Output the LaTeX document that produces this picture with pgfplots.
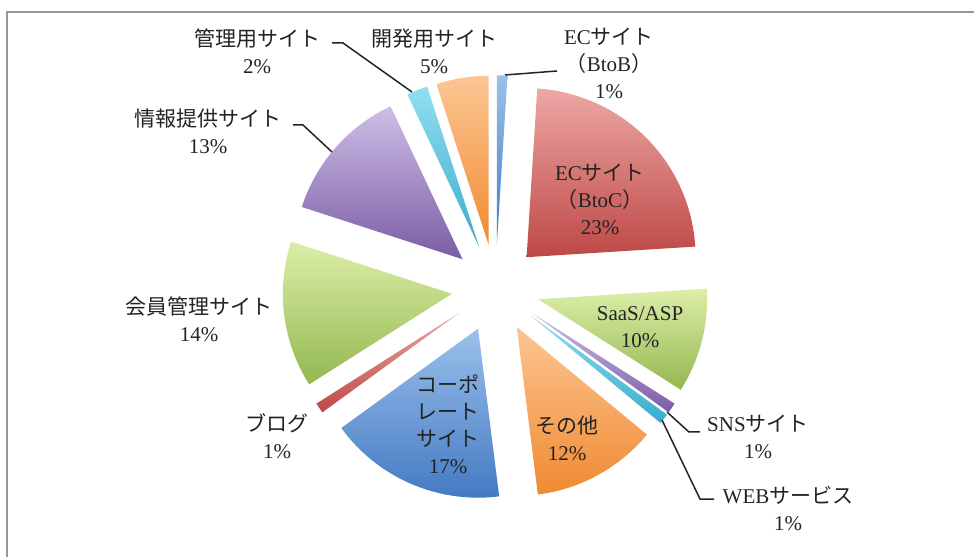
\documentclass[border=0pt]{standalone}
\usepackage{pgfplots}
\usepackage{pgfplotstable}
\pgfplotsset{compat=1.18}
\usepackage{fontspec}
\setmainfont{Liberation Serif}
\newfontfamily\cjk{Noto Sans CJK JP}

\definecolor{blueL}{RGB}{155,192,235}
\definecolor{blueD}{RGB}{68,122,195}
\definecolor{redL}{RGB}{236,168,165}
\definecolor{redD}{RGB}{190,72,70}
\definecolor{greenL}{RGB}{220,238,168}
\definecolor{greenD}{RGB}{148,184,80}
\definecolor{purpleL}{RGB}{206,190,230}
\definecolor{purpleD}{RGB}{122,92,165}
\definecolor{aquaL}{RGB}{145,222,240}
\definecolor{aquaD}{RGB}{58,172,205}
\definecolor{orangeL}{RGB}{252,198,148}
\definecolor{orangeD}{RGB}{240,138,48}
\definecolor{txt}{RGB}{35,35,35}
\definecolor{framecol}{RGB}{150,150,150}

\tikzset{lbl/.style={align=center, font=\fontsize{21}{27}\selectfont, text=txt, inner sep=0pt}}

% share (%), clockwise from 12 o'clock
\pgfplotstableread{
name value fam
BtoB 1 blue
BtoC 23 red
SaaS 10 green
SNS 1 purple
WEB 1 aqua
Other 12 orange
Corporate 17 blue
Blog 1 red
Member 14 green
Info 13 purple
Admin 2 aqua
Dev 5 orange
}\piedata

\def\pcx{495.5}\def\pcy{268.7}\def\prad{169}\def\pexp{44}
\gdef\pcum{0}

\begin{document}
\begin{tikzpicture}
\begin{axis}[name=ax, hide axis, scale only axis, width=974pt, height=557pt,
  xmin=0, xmax=974, ymin=0, ymax=557, clip=false]
\draw[framecol, line width=1.5pt] (axis cs:7,0) -- (axis cs:7,545) -- (axis cs:974,545);
\pgfplotsinvokeforeach{0,...,11}{
  \pgfplotstablegetelem{#1}{value}\of\piedata \let\wV\pgfplotsretval
  \pgfplotstablegetelem{#1}{fam}\of\piedata \let\wF\pgfplotsretval
  \pgfmathsetmacro\wA{90-3.6*\pcum}
  \pgfmathsetmacro\wB{90-3.6*(\pcum+\wV)}
  \pgfmathsetmacro\wM{(\wA+\wB)/2}
  \pgfmathsetmacro\wX{\pcx+\pexp*cos(\wM)}
  \pgfmathsetmacro\wY{\pcy+\pexp*sin(\wM)}
  \pgfmathsetmacro\wN{\pcum+\wV}
  \global\let\pcum\wN
  \edef\wDo{\noexpand\addplot[draw=none, top color=\wF L, bottom color=\wF D,
     domain=\wB:\wA, samples=60] ({\wX+\prad*cos(x)},{\wY+\prad*sin(x)}) -- (axis cs:\wX,\wY) -- cycle;}
  \wDo
}
% leader lines
\addplot[txt, line width=1.5pt, no markers] coordinates {(332,514) (343,514) (412,465)};
\addplot[txt, line width=1.5pt, no markers] coordinates {(293,432) (303,432) (332,405)};
\addplot[txt, line width=1.5pt, no markers] coordinates {(505,482) (557,486)};
\addplot[txt, line width=1.5pt, no markers] coordinates {(667,145) (689,125) (700,125)};
\addplot[txt, line width=1.5pt, no markers] coordinates {(662,137) (700,58) (714,58)};
% labels
\node[lbl] at (axis cs:257,505.5) {{\cjk 管理用サイト}\\2\%};
\node[lbl] at (axis cs:434,505.5) {{\cjk 開発用サイト}\\5\%};
\node[lbl] at (axis cs:609,493.5) {EC{\cjk サイト}\\{\cjk （}BtoB{\cjk ）}\\1\%};
\node[lbl] at (axis cs:208,426) {{\cjk 情報提供サイト}\\13\%};
\node[lbl] at (axis cs:600,357.5) {EC{\cjk サイト}\\{\cjk （}BtoC{\cjk ）}\\23\%};
\node[lbl] at (axis cs:199,237.5) {{\cjk 会員管理サイト}\\14\%};
\node[lbl] at (axis cs:640,230) {SaaS/ASP\\10\%};
\node[lbl] at (axis cs:277,121) {{\cjk ブログ}\\1\%};
\node[lbl] at (axis cs:448,132.5) {{\cjk コーポ}\\{\cjk レート}\\{\cjk サイト}\\17\%};
\node[lbl] at (axis cs:567,118.5) {{\cjk その他}\\12\%};
\node[lbl] at (axis cs:758,120) {SNS{\cjk サイト}\\1\%};
\node[lbl] at (axis cs:788,48.5) {WEB{\cjk サービス}\\1\%};
\end{axis}
\pgfresetboundingbox
\path (ax.south west) rectangle (ax.north east);
\end{tikzpicture}
\end{document}
